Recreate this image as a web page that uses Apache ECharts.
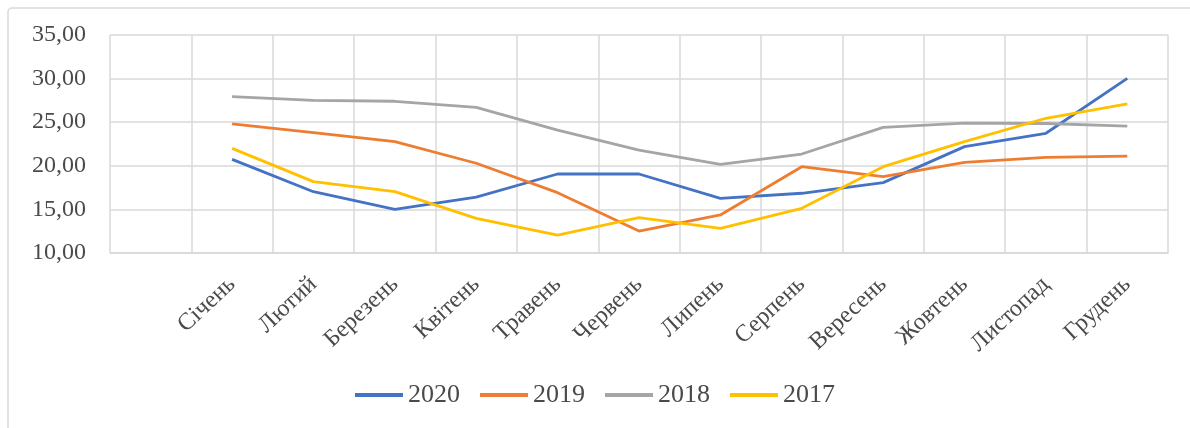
<!DOCTYPE html>
<html>
<head>
<meta charset="utf-8">
<script src="https://cdn.jsdelivr.net/npm/echarts@6/dist/echarts.min.js"></script>
<style>
html,body{margin:0;padding:0;background:#fff;}
#chart{width:1190px;height:428px;}
</style>
</head>
<body>
<div id="chart"></div>
<script>
var months = ['Січень','Лютий','Березень','Квітень','Травень','Червень','Липень','Серпень','Вересень','Жовтень','Листопад','Грудень'];
var s2020 = [20.74, 17.03, 15.01, 16.40, 19.06, 19.06, 16.27, 16.85, 18.07, 22.20, 23.73, 30.03];
var s2019 = [24.80, 23.80, 22.77, 20.29, 16.92, 12.52, 14.36, 19.90, 18.75, 20.40, 20.97, 21.10];
var s2018 = [27.93, 27.50, 27.40, 26.70, 24.10, 21.80, 20.17, 21.35, 24.40, 24.90, 24.85, 24.56];
var s2017 = [22.00, 18.18, 17.03, 13.98, 12.06, 14.05, 12.83, 15.13, 19.90, 22.77, 25.45, 27.09];
var yTicks = {min: 10, max: 35, interval: 5};

var categories = [''].concat(months);
function pad(arr){ return [null].concat(arr); }

var font = 'Liberation Serif';
var textColor = '#4a4a4a';
var gridColor = '#d9d9d9';

var chart = echarts.init(document.getElementById('chart'));
function mk(name, data, color){
  return {
    name: name, type: 'line', data: pad(data),
    symbol: 'none', showSymbol: false,
    lineStyle: {color: color, width: 2.8},
    itemStyle: {color: color},
    connectNulls: false, animation: false
  };
}
chart.setOption({
  animation: false,
  graphic: [{
    type: 'rect', silent: true,
    shape: {x: 8, y: 8, width: 1200, height: 440, r: 4},
    style: {fill: 'none', stroke: gridColor, lineWidth: 1.5}
  }],
  grid: {left: 110, right: 22, top: 35, bottom: 175, containLabel: false},
  legend: {
    bottom: 15, left: 'center',
    icon: 'rect', itemWidth: 48, itemHeight: 4, itemGap: 20,
    textStyle: {fontFamily: font, fontSize: 26, color: textColor},
    data: ['2020','2019','2018','2017']
  },
  xAxis: {
    type: 'category', data: categories, boundaryGap: true,
    axisLine: {show: true, lineStyle: {color: gridColor, width: 1.5}},
    axisTick: {show: false},
    splitLine: {show: true, lineStyle: {color: gridColor, width: 1.5}},
    axisLabel: {
      interval: 0, rotate: 43, margin: 28,
      fontFamily: font, fontSize: 24, color: textColor
    }
  },
  yAxis: {
    type: 'value', min: yTicks.min, max: yTicks.max, interval: yTicks.interval,
    axisLine: {show: false}, axisTick: {show: false},
    splitLine: {show: true, lineStyle: {color: gridColor, width: 1.5}},
    axisLabel: {
      margin: 24, fontFamily: font, fontSize: 24, color: textColor,
      formatter: function(v){ return v.toFixed(2).replace('.', ','); }
    }
  },
  series: [
    mk('2020', s2020, '#4472C4'),
    mk('2019', s2019, '#ED7D31'),
    mk('2018', s2018, '#A5A5A5'),
    mk('2017', s2017, '#FFC000')
  ]
});
</script>
</body>
</html>
